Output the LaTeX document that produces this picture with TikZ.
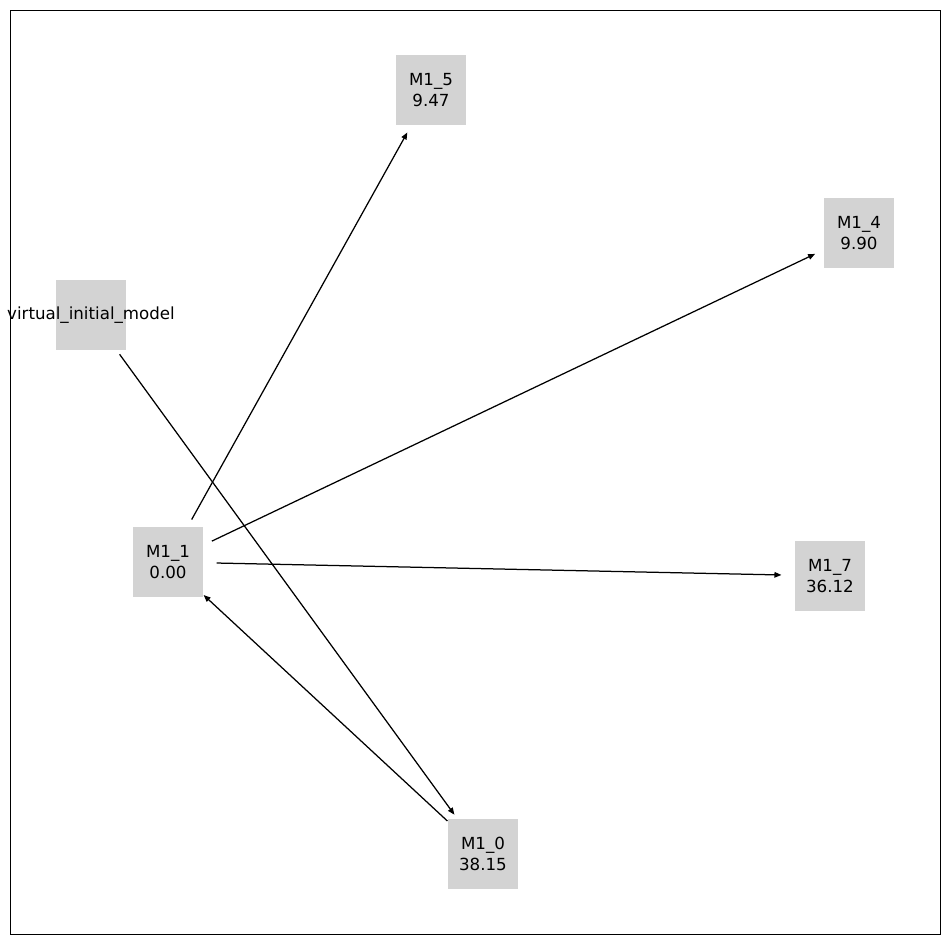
\documentclass[tikz,border=0pt]{standalone}
\usepackage{fontspec}
\setmainfont{DejaVu Sans}
\usetikzlibrary{arrows.meta}
\tikzset{
  box/.style={rectangle, fill={rgb,255:red,211;green,211;blue,211}, draw=none, minimum width=51.1pt, minimum height=51.1pt, inner sep=0pt},
  lbl/.style={align=center, font=\fontsize{12pt}{15pt}\selectfont, inner sep=0pt},
  edge/.style={line width=0.9pt, -{Triangle[length=5pt,width=4pt]}, shorten >=35pt, shorten <=35pt},
  frame/.style={line width=0.7pt}
}
\begin{document}
\begin{tikzpicture}[x=0.72pt,y=-0.72pt]
\useasboundingbox (0,0) rectangle (950,944);
\draw[frame] (10,10) rectangle (940,934);
\node[box, label={[lbl]center:M1\_5\\9.47}] (m15) at (431,90) {};
\node[box, label={[lbl]center:M1\_4\\9.90}] (m14) at (859,233) {};
\node[box, label={[lbl]center:virtual\_initial\_model}] (vim) at (91,315) {};
\node[box, label={[lbl]center:M1\_1\\0.00}] (m11) at (168,562) {};
\node[box, label={[lbl]center:M1\_7\\36.12}] (m17) at (830,576) {};
\node[box, label={[lbl]center:M1\_0\\38.15}] (m10) at (483,854) {};
\draw[edge] (m11.center) -- (m15.center);
\draw[edge] (m11.center) -- (m14.center);
\draw[edge] (m11.center) -- (m17.center);
\draw[edge] (m10.center) -- (m11.center);
\draw[edge] (vim.center) -- (m10.center);
\end{tikzpicture}
\end{document}
